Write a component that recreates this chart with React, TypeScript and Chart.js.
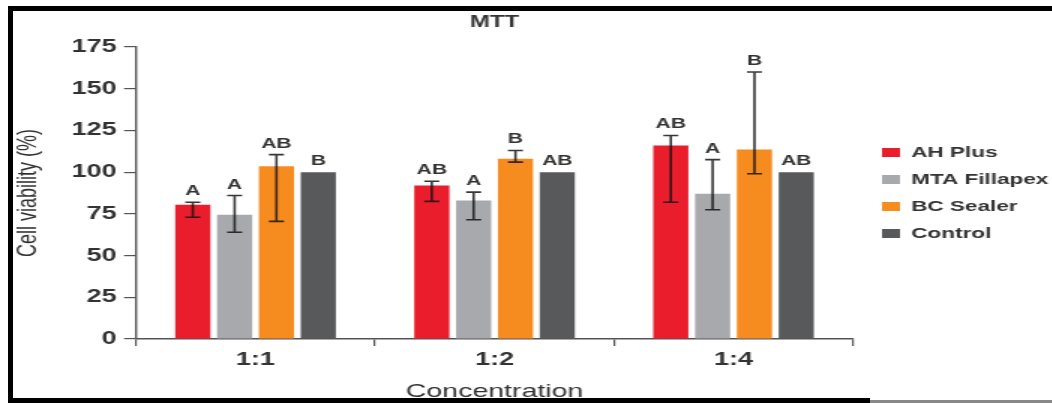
import React, { useEffect, useRef } from 'react';
import { Chart, registerables } from 'chart.js';

Chart.register(...registerables);

// ---------- data ----------
const categories = ['1:1', '1:2', '1:4'];
const seriesNames = ['AH Plus', 'MTA Fillapex', 'BC Sealer', 'Control'];

const ahPlusValues = [80.5, 92, 116];
const ahPlusLow = [73, 82.5, 82];
const ahPlusHigh = [82, 94.5, 122];
const ahPlusLetters = ['A', 'AB', 'AB'];

const mtaValues = [74.5, 83, 87];
const mtaLow = [64, 71.5, 77.5];
const mtaHigh = [86, 88, 107.5];
const mtaLetters = ['A', 'A', 'A'];

const bcValues = [103.5, 108, 113.5];
const bcLow = [70.5, 106, 99];
const bcHigh = [110.5, 113, 160];
const bcLetters = ['AB', 'B', 'B'];

const controlValues = [100, 100, 100];
const controlLetters = ['B', 'AB', 'AB'];

const yMin = 0;
const yMax = 175;
const yStep = 25;

const colors = ['#EA1D2C', '#A7A9AC', '#F68B1F', '#58595B'];

// ---------- style ----------
const FONT = "'Liberation Sans', Arial, Helvetica, sans-serif";
const TEXT = '#333333';
const AXIS = '#555555';
const STRETCH = 1.5; // picture is horizontally stretched
const CANVAS_W = 706;
const CANVAS_H = 403;

Chart.defaults.font.family = FONT;

const errorBarsPlugin = {
  id: 'errorBarsAndLetters',
  afterDatasetsDraw(chart: any) {
    const { ctx } = chart;
    const yScale = chart.scales.y;
    chart.data.datasets.forEach((ds: any, i: number) => {
      const meta = chart.getDatasetMeta(i);
      if (meta.hidden) return;
      meta.data.forEach((bar: any, j: number) => {
        const x = bar.x;
        let top = bar.y;
        if (ds.errLow && ds.errHigh) {
          const lo = yScale.getPixelForValue(ds.errLow[j]);
          const hi = yScale.getPixelForValue(ds.errHigh[j]);
          ctx.save();
          ctx.strokeStyle = 'rgba(20,20,20,0.85)';
          ctx.lineWidth = 1.6;
          ctx.beginPath();
          ctx.moveTo(x, lo);
          ctx.lineTo(x, hi);
          ctx.moveTo(x - 5, hi);
          ctx.lineTo(x + 5, hi);
          ctx.moveTo(x - 5, lo);
          ctx.lineTo(x + 5, lo);
          ctx.stroke();
          ctx.restore();
          top = Math.min(hi, bar.y);
        }
        const letter = ds.letters && ds.letters[j];
        if (letter) {
          ctx.save();
          ctx.fillStyle = TEXT;
          ctx.font = `bold 14px ${FONT}`;
          ctx.textAlign = 'center';
          ctx.textBaseline = 'alphabetic';
          ctx.fillText(letter, x, top - 7);
          ctx.restore();
        }
      });
    });
  },
};

export default function App() {
  const canvasRef = useRef<HTMLCanvasElement | null>(null);

  useEffect(() => {
    const canvas = canvasRef.current;
    if (!canvas) return;
    const mk = (idx: number, data: number[], low: number[] | null, high: number[] | null, letters: string[]) => ({
      label: seriesNames[idx],
      data,
      errLow: low,
      errHigh: high,
      letters,
      backgroundColor: colors[idx],
      borderWidth: 0,
      barPercentage: 0.84,
      categoryPercentage: 0.7,
    });
    const chart = new Chart(canvas, {
      type: 'bar',
      data: {
        labels: categories,
        datasets: [
          mk(0, ahPlusValues, ahPlusLow, ahPlusHigh, ahPlusLetters),
          mk(1, mtaValues, mtaLow, mtaHigh, mtaLetters),
          mk(2, bcValues, bcLow, bcHigh, bcLetters),
          mk(3, controlValues, null, null, controlLetters),
        ] as any,
      },
      options: {
        responsive: false,
        maintainAspectRatio: false,
        animation: false,
        devicePixelRatio: 1,
        layout: { padding: 0 },
        plugins: {
          tooltip: { enabled: false },
          title: {
            display: true,
            text: 'MTT',
            fullSize: false,
            color: TEXT,
            font: { family: FONT, size: 16, weight: 'bold' },
            padding: { top: 13.4, bottom: 14.4 },
          },
          legend: {
            position: 'right',
            align: 'center',
            fullSize: false,
            maxWidth: 130,
            labels: {
              boxWidth: 12,
              boxHeight: 9,
              padding: 12,
              color: TEXT,
              font: { family: FONT, size: 15, weight: 'bold' },
            },
          },
        },
        scales: {
          x: {
            type: 'category',
            grid: {
              display: true,
              drawOnChartArea: false,
              drawTicks: true,
              tickLength: 7,
              color: AXIS,
              lineWidth: 1.2,
              offset: true,
            },
            border: { display: true, color: AXIS, width: 1.4 },
            ticks: {
              color: TEXT,
              font: { family: FONT, size: 18, weight: 'bold' },
              padding: 3,
            },
            title: {
              display: true,
              text: 'Concentration',
              color: TEXT,
              font: { family: FONT, size: 19 },
              padding: { top: 6.6, bottom: 0 },
            },
          },
          y: {
            type: 'linear',
            min: yMin,
            max: yMax,
            ticks: {
              stepSize: yStep,
              color: TEXT,
              font: { family: FONT, size: 18, weight: 'bold' },
              padding: 5,
            },
            grid: {
              display: true,
              drawOnChartArea: false,
              drawTicks: true,
              tickLength: 8,
              color: AXIS,
              lineWidth: 1.2,
            },
            border: { display: true, color: AXIS, width: 1.4 },
            title: {
              display: true,
              text: 'Cell viability (%)',
              color: TEXT,
              font: { family: FONT, size: 18 },
              padding: { top: 8, bottom: 0 },
            },
            afterFit: (s: any) => {
              s.width = 90.7;
            },
          },
          gap: {
            type: 'linear',
            position: 'right',
            display: true,
            grid: { display: false },
            ticks: { display: false },
            border: { display: false },
            afterFit: (s: any) => {
              s.width = 7.3;
            },
          },
        },
      } as any,
      plugins: [errorBarsPlugin],
    });
    canvas.style.width = `${CANVAS_W * STRETCH}px`;
    canvas.style.height = `${CANVAS_H}px`;
    return () => chart.destroy();
  }, []);

  return (
    <div
      style={{
        position: 'fixed',
        left: 0,
        top: 0,
        width: 1052,
        height: 403,
        overflow: 'hidden',
        background: '#ffffff',
      }}
    >
      <canvas
        ref={canvasRef}
        width={CANVAS_W}
        height={CANVAS_H}
        style={{ display: 'block', width: CANVAS_W * STRETCH, height: CANVAS_H }}
      />
      <div style={{ position: 'absolute', left: 8, top: 6, width: 1100, height: 5, background: '#000' }} />
      <div style={{ position: 'absolute', left: 8, top: 6, width: 5, height: 397, background: '#000' }} />
      <div style={{ position: 'absolute', left: 8, top: 398, width: 862, height: 5, background: '#000' }} />
      <div style={{ position: 'absolute', left: 870, top: 400, width: 182, height: 3, background: '#888' }} />
    </div>
  );
}
